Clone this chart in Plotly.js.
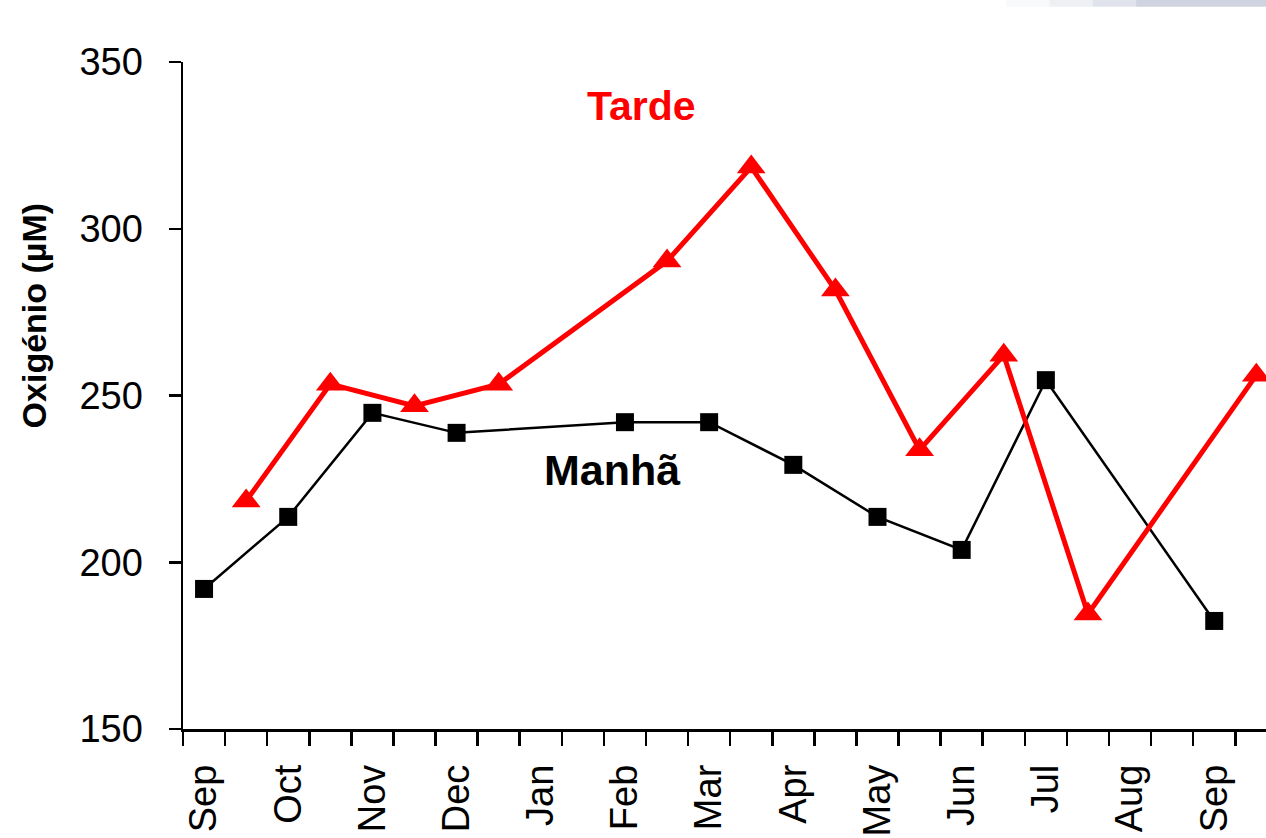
<!DOCTYPE html>
<html>
<head>
<meta charset="utf-8">
<script src="https://cdn.plot.ly/plotly-3.0.1.min.js"></script>
<style>
html,body{margin:0;padding:0;overflow:hidden;background:#fff;}
#chart{width:1266px;height:838px;}
</style>
</head>
<body>
<div id="chart"></div>
<script>
// Month labels (every second sampling slot)
var monthLabels = ['Sep','Oct','Nov','Dec','Jan','Feb','Mar','Apr','May','Jun','Jul','Aug','Sep'];
// Sampling slots (two per month)
var slots = 26;
// Manhã (morning) oxygen, µM
var manha = [192, null, 213.6, null, 244.8, null, 238.8, null, null, null, 242, null, 242, null, 229.2, null, 213.6, null, 203.7, null, 254.6, null, null, null, 182.4, null];
// Tarde (afternoon) oxygen, µM
var tarde = [null, 218.4, null, 253.4, null, 246.9, null, 253.4, null, null, null, 290.3, null, 318.5, null, 281.6, null, 233.7, null, 262.1, null, 184.5, null, null, null, 256.1];

var xs = [];
for (var i = 0; i < slots; i++) xs.push(i);

var tickVals = [], tickText = [];
for (var j = 0; j <= slots; j++) {
  tickVals.push(j - 0.5);
  tickText.push(j % 2 === 0 ? (monthLabels[j / 2] || '') : '');
}

var traces = [
  {
    x: xs, y: manha, type: 'scatter', mode: 'lines+markers', connectgaps: true,
    name: 'Manhã',
    line: {color: '#000000', width: 2.5},
    marker: {symbol: 'square', size: 18, color: '#000000'},
    cliponaxis: true
  },
  {
    x: xs, y: tarde, type: 'scatter', mode: 'lines+markers', connectgaps: true,
    name: 'Tarde',
    line: {color: '#ff0000', width: 5},
    marker: {symbol: 'triangle-up', size: 25, color: '#ff0000'},
    cliponaxis: true
  }
];

var fam = 'Liberation Sans, Arial, sans-serif';
var shapes = [];
var grad = [[0.76, 0.80, 0.12], [0.80, 0.84, 0.3], [0.84, 0.88, 0.55], [0.88, 1.0, 0.85]];
grad.forEach(function (g) {
  shapes.push({type: 'rect', xref: 'paper', yref: 'paper', x0: g[0], x1: g[1], y0: 1.083, y1: 1.095,
    fillcolor: 'rgba(200,204,220,' + g[2] + ')', line: {width: 0}, layer: 'below'});
});

var layout = {
  width: 1266, height: 838,
  margin: {l: 183, r: 0, t: 62, b: 109},
  paper_bgcolor: '#ffffff', plot_bgcolor: '#ffffff',
  showlegend: false,
  font: {family: fam, color: '#000'},
  xaxis: {
    range: [-0.5, 25.23],
    tickmode: 'array', tickvals: tickVals, ticktext: tickText,
    ticks: 'outside', ticklen: 14, tickwidth: 2.5, tickcolor: '#000',
    tickangle: -90, ticklabelshift: 21, ticklabelstandoff: 4,
    tickfont: {size: 38, color: '#000'},
    showline: true, linecolor: '#000', linewidth: 2.5,
    showgrid: false, zeroline: false
  },
  yaxis: {
    range: [150, 350],
    tickvals: [150, 200, 250, 300, 350],
    ticks: 'outside', ticklen: 12, tickwidth: 2.5, tickcolor: '#000',
    ticklabelstandoff: 18,
    tickfont: {size: 38, color: '#000'},
    showline: true, linecolor: '#000', linewidth: 2.5,
    showgrid: false, zeroline: false
  },
  annotations: [
    {text: '<b>Tarde</b>', x: 10.4, y: 336.8, xref: 'x', yref: 'y', showarrow: false,
     font: {size: 41, color: '#ff0000', family: fam}},
    {text: '<b>Manhã</b>', x: 9.71, y: 227.7, xref: 'x', yref: 'y', showarrow: false,
     font: {size: 43, color: '#000000', family: fam}},
    {text: '<b>Oxigénio (µM)</b>', x: -0.1367, y: 0.62, xref: 'paper', yref: 'paper',
     textangle: -90, showarrow: false, xanchor: 'center', yanchor: 'middle',
     font: {size: 34, color: '#000000', family: fam}}
  ],
  shapes: shapes
};

Plotly.newPlot('chart', traces, layout, {displayModeBar: false, staticPlot: true});
</script>
</body>
</html>
